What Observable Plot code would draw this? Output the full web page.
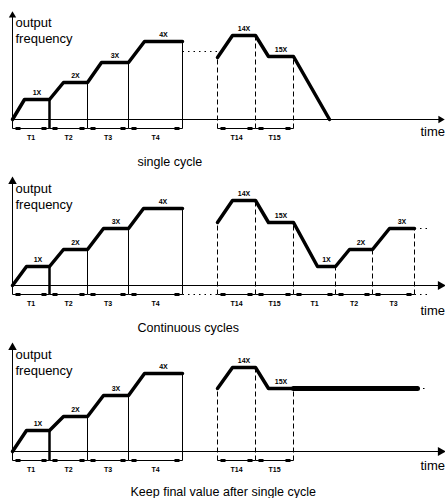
<!DOCTYPE html>
<html>
<head>
<meta charset="utf-8">
<script src="https://cdn.jsdelivr.net/npm/d3@7"></script>
<script src="https://cdn.jsdelivr.net/npm/@observablehq/plot@0.6"></script>
<style>
  html, body { margin: 0; padding: 0; background: #fff; }
  #chart { width: 445px; height: 498px; }
</style>
</head>
<body>
<div id="chart"></div>
<script>
// ---- data ----
const panels = ["single cycle", "Continuous cycles", "Keep final value after single cycle"];
const axisLabel = ["output", "frequency"];
const timeLabel = "time";

// panel 1 (single cycle)
const p1RampTime = [0, 12, 37, 51, 75, 89, 116, 132, 170];
const p1RampFreq = [0, 20, 20, 37, 37, 57, 57, 78, 78];
const p1EndTime = [205, 220, 243, 256, 281, 317];
const p1EndFreq = [62, 84, 84, 63, 63, 0];
// panel 2 (continuous cycles)
const p2RampTime = [0, 14, 37, 51, 75, 91, 116, 131, 170];
const p2RampFreq = [0, 19, 19, 36, 36, 57, 57, 77, 77];
const p2EndTime = [205, 220, 243, 256, 281, 305, 323, 337, 360, 377, 402];
const p2EndFreq = [63, 85, 85, 63, 63, 19, 19, 36, 36, 57, 57];
// panel 3 (keep final value)
const p3RampTime = [0, 14, 37, 51, 75, 91, 116, 132, 170];
const p3RampFreq = [0, 21, 21, 35, 35, 56, 56, 78, 78];
const p3EndTime = [205, 220, 243, 256, 281];
const p3EndFreq = [63, 84, 84, 63, 63];
const p3HoldTime = [281, 405];
const p3HoldFreq = [63, 63];

const solidEdges = [37, 75, 116, 170];
const dashedEdges1 = [205, 243, 281];
const dashedEdges2 = [205, 243, 281, 323, 360, 402];
const intervals1 = [[0, 37], [37, 75], [75, 116], [116, 170], [205, 243], [243, 281]];
const intervals2 = [[0, 37], [37, 75], [75, 116], [116, 170], [205, 243], [243, 281], [281, 323], [323, 360], [360, 402]];
const intervalLabels1 = ["T1", "T2", "T3", "T4", "T14", "T15"];
const intervalLabels2 = ["T1", "T2", "T3", "T4", "T14", "T15", "T1", "T2", "T3"];
const speedLabels1 = ["1X", "2X", "3X", "4X", "14X", "15X"];
const speedLabels2 = ["1X", "2X", "3X", "4X", "14X", "15X", "1X", "2X", "3X"];
const timeLabelY = [-12, -25, -14];
const captionX = [125, 125, 118];
const captionY = [-42, -42, -40];

// ---- build tables ----
const cfg = [
  {segs: [[p1RampTime, p1RampFreq], [p1EndTime, p1EndFreq]], dashed: dashedEdges1, iv: intervals1, ivl: intervalLabels1, sl: speedLabels1},
  {segs: [[p2RampTime, p2RampFreq], [p2EndTime, p2EndFreq]], dashed: dashedEdges2, iv: intervals2, ivl: intervalLabels2, sl: speedLabels2},
  {segs: [[p3RampTime, p3RampFreq], [p3EndTime, p3EndFreq]], dashed: dashedEdges1, iv: intervals1, ivl: intervalLabels1, sl: speedLabels1}
];
const curve = [], flats = [], solid = [], dashed = [], brackets = [], ivText = [], meta = [];
cfg.forEach((c, pi) => {
  const panel = panels[pi];
  const pts = [];
  c.segs.forEach(([T, F], si) => {
    T.forEach((t, i) => { curve.push({panel, seg: si, t, f: F[i]}); pts.push({t, f: F[i]}); });
    for (let i = 1; i < T.length; i++) if (F[i] === F[i - 1] && F[i] > 0) flats.push({panel, t: (T[i] + T[i - 1]) / 2, f: F[i]});
  });
  const lvl = t => d3.max(pts.filter(p => p.t === t), p => p.f);
  solidEdges.forEach((t, i) => solid.push({panel, t, top: lvl(t), first: i === 0}));
  c.dashed.forEach(t => dashed.push({panel, t, top: lvl(t)}));
  c.iv.forEach(([a, b], i) => { brackets.push({panel, a, b}); ivText.push({panel, t: (a + b) / 2, label: c.ivl[i]}); });
  meta.push({panel, cx: captionX[pi], cy: captionY[pi], ty: timeLabelY[pi], big: pi > 0});
});
const flatLabels = [];
panels.forEach((p, pi) => { const fl = flats.filter(f => f.panel === p); fl.forEach((f, i) => flatLabels.push({...f, label: cfg[pi].sl[i]})); });
const hold = p3HoldTime.map((t, i) => ({panel: panels[2], t, f: p3HoldFreq[i]}));

// dotted continuation pieces
const dots = [
  {panel: panels[0], a: 170, b: 205, y: 68},
  {panel: panels[1], a: 170, b: 205, y: -9},
  {panel: panels[1], a: 402, b: 416, y: -9},
  {panel: panels[1], a: 402, b: 416, y: 57},
  {panel: panels[2], a: 405, b: 416, y: 63}
];
const blobs = brackets.flatMap(d => [
  {panel: d.panel, a: d.a + 3, b: d.a + 8},
  {panel: d.panel, a: d.b - 8, b: d.b - 3}
]);

const chart = Plot.plot({
  width: 445, height: 498,
  marginTop: 0, marginBottom: 0, marginLeft: 0, marginRight: 0,
  x: {domain: [-12, 433], axis: null},
  y: {domain: [-47, 119], axis: null},
  fy: {domain: panels, padding: 0, axis: null},
  style: {fontFamily: "'Liberation Sans', Arial, sans-serif", fontSize: "13px", background: "#fff", color: "#000", overflow: "visible"},
  marks: [
    // axes
    Plot.link(meta, {fy: "panel", x1: 0, x2: 0, y1: -9, y2: 104, stroke: "#000", strokeWidth: 1}),
    Plot.link(meta, {fy: "panel", x1: 0, x2: 427, y1: 0, y2: 0, stroke: "#000", strokeWidth: 1}),
    Plot.dot(meta, {fy: "panel", x: 0, y: 104, symbol: "triangle", r: d => d.big ? 4 : 3, fill: "#000", stroke: null}),
    Plot.dot(meta, {fy: "panel", x: 428, y: 0, symbol: "triangle", rotate: 90, r: d => d.big ? 4.5 : 3, fill: "#000", stroke: null}),
    // boundaries
    Plot.link(solid.filter(d => !d.first), {fy: "panel", x1: "t", x2: "t", y1: -9, y2: "top", stroke: "#000", strokeWidth: 1}),
    Plot.link(solid.filter(d => d.first), {fy: "panel", x1: "t", x2: "t", y1: -9, y2: "top", stroke: "#000", strokeWidth: 2.5}),
    Plot.link(dashed, {fy: "panel", x1: "t", x2: "t", y1: -9, y2: "top", stroke: "#000", strokeWidth: 1, strokeDasharray: "5,3"}),
    // brackets
    Plot.link(brackets, {fy: "panel", x1: "a", x2: "b", y1: -9, y2: -9, stroke: "#000", strokeWidth: 1}),
    Plot.link(blobs, {fy: "panel", x1: "a", x2: "b", y1: -9, y2: -9, stroke: "#000", strokeWidth: 3}),
    Plot.link(dots, {fy: "panel", x1: "a", x2: "b", y1: "y", y2: "y", stroke: "#000", strokeWidth: 1.2, strokeDasharray: "1.5,4"}),
    // curves
    Plot.line(curve, {fy: "panel", x: "t", y: "f", z: "seg", stroke: "#000", strokeWidth: 3.5, strokeLinejoin: "round"}),
    Plot.line(hold, {fy: "panel", x: "t", y: "f", stroke: "#000", strokeWidth: 5}),
    // texts
    Plot.text(flatLabels, {fy: "panel", x: "t", y: "f", text: "label", dy: -7, fontSize: 7, fontWeight: "bold", fill: "#000"}),
    Plot.text(ivText, {fy: "panel", x: "t", y: -18, text: "label", fontSize: 7, fontWeight: "bold", fill: "#000"}),
    Plot.text(meta, {fy: "panel", x: 3, y: 97, text: () => axisLabel[0], textAnchor: "start", fontSize: 13, fill: "#000"}),
    Plot.text(meta, {fy: "panel", x: 3, y: 81, text: () => axisLabel[1], textAnchor: "start", fontSize: 13, fill: "#000"}),
    Plot.text(meta, {fy: "panel", x: 408, y: "ty", text: () => timeLabel, textAnchor: "start", fontSize: 13, fill: "#000"}),
    Plot.text(meta, {fy: "panel", x: "cx", y: "cy", text: "panel", textAnchor: "start", fontSize: 12.5, fill: "#000"})
  ]
});
document.getElementById("chart").appendChild(chart);
</script>
</body>
</html>
